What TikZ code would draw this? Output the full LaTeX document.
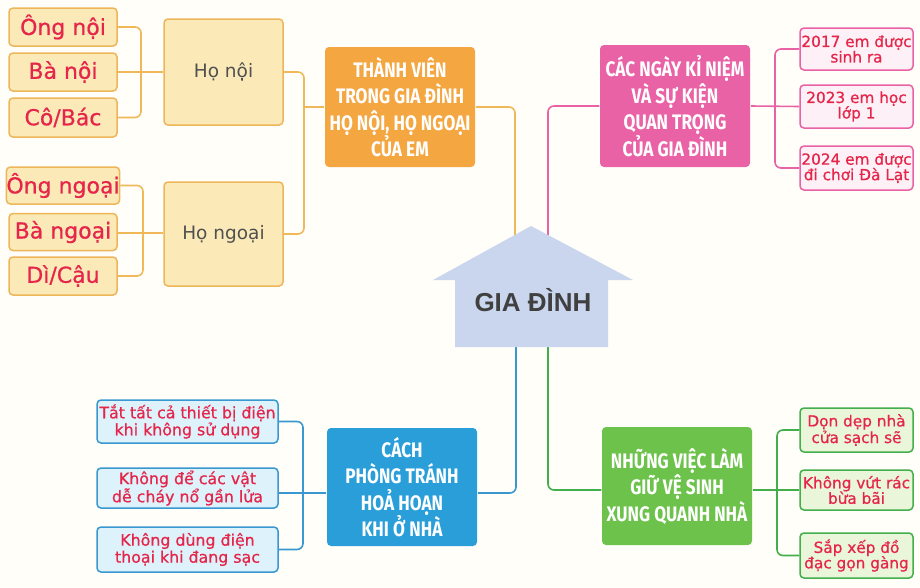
\documentclass[tikz,border=0pt]{standalone}
\usepackage{fontspec}
\usetikzlibrary{calc}
\setmainfont{DejaVu Sans}
\newfontfamily\leaffont[FakeBold=0.7]{DejaVu Sans}
\newfontfamily\headfont[FakeStretch=0.82]{Fira Sans}
\newfontfamily\housefont{Liberation Sans}
\definecolor{bgcol}{HTML}{FFFEF9}
\definecolor{orgbox}{HTML}{F4A640}
\definecolor{orgline}{HTML}{F1B85A}
\definecolor{orgleaf}{HTML}{FBEAB8}
\definecolor{orgborder}{HTML}{EDB65A}
\definecolor{pinkbox}{HTML}{EA62A6}
\definecolor{pinkleaf}{HTML}{FDF0F6}
\definecolor{bluebox}{HTML}{2A9ED9}
\definecolor{blueleaf}{HTML}{DDF2FB}
\definecolor{blueline}{HTML}{3A98D0}
\definecolor{greenbox}{HTML}{6CC24A}
\definecolor{greenleaf}{HTML}{EAF6DA}
\definecolor{greenline}{HTML}{43AE4C}
\definecolor{redtxt}{HTML}{E5254A}
\definecolor{graytxt}{HTML}{505050}
\definecolor{housecol}{HTML}{C9D6EE}
\tikzset{
  basebox/.style={inner sep=0pt, rounded corners=4pt, align=center, line width=1.5pt},
  headbox/.style={basebox, text=white, font=\headfont\bfseries\fontsize{21}{26.5}\selectfont},
  leafbig/.style={basebox, draw=orgborder, fill=orgleaf, text=redtxt, font=\leaffont\fontsize{22}{24}\selectfont},
  familybox/.style={basebox, draw=orgborder, fill=orgleaf, text=graytxt, font=\fontsize{18.5}{20}\selectfont},
  leafsmall/.style={basebox, text=redtxt, font=\leaffont\fontsize{15.3}{15.5}\selectfont},
  pinkleafbox/.style={leafsmall, draw=pinkbox, fill=pinkleaf},
  blueleafbox/.style={leafsmall, draw=blueline, fill=blueleaf, font=\leaffont\fontsize{15.8}{17}\selectfont},
  greenleafbox/.style={leafsmall, draw=greenline, fill=greenleaf},
  conn/.style={line width=1.6pt, rounded corners=6pt},
}
\begin{document}
\begin{tikzpicture}[x=1pt,y=-1pt]
\fill[bgcol] (0,0) rectangle (920,587);
\useasboundingbox (0,0) rectangle (920,587);

% ---------- orange group ----------
\node[leafbig, minimum width=108pt, minimum height=38pt] (on1) at (63,27) {Ông nội};
\node[leafbig, minimum width=108pt, minimum height=38pt] (bn1) at (63,72) {Bà nội};
\node[leafbig, minimum width=108pt, minimum height=39pt] (cb) at (63,117.5) {Cô/Bác};
\node[familybox, minimum width=119pt, minimum height=106pt] (hn) at (223.5,72) {Họ nội};
\node[leafbig, minimum width=108pt, minimum height=37pt] (on2) at (63,185.5) {Ông ngoại};
\node[leafbig, minimum width=108pt, minimum height=37pt] (bn2) at (63,232) {Bà ngoại};
\node[leafbig, minimum width=108pt, minimum height=38pt] (dc) at (63,276) {Dì/Cậu};
\node[familybox, minimum width=119pt, minimum height=104pt] (hng) at (223.5,234) {Họ ngoại};
\node[headbox, fill=orgbox, minimum width=150pt, minimum height=120pt] (tv) at (400,107)
  {THÀNH VIÊN\\TRONG GIA ĐÌNH\\HỌ NỘI, HỌ NGOẠI\\CỦA EM};

% ---------- pink group ----------
\node[headbox, fill=pinkbox, minimum width=150pt, minimum height=122pt] (nk) at (675,106)
  {CÁC NGÀY KỈ NIỆM\\VÀ SỰ KIỆN\\QUAN TRỌNG\\CỦA GIA ĐÌNH};
\node[pinkleafbox, minimum width=113pt, minimum height=42pt] (p1) at (856.5,49) {2017 em được\\sinh ra};
\node[pinkleafbox, minimum width=113pt, minimum height=43pt] (p2) at (856.5,106.5) {2023 em học\\lớp 1};
\node[pinkleafbox, minimum width=113pt, minimum height=44pt] (p3) at (856.5,168) {2024 em được\\đi chơi Đà Lạt};

% ---------- blue group ----------
\node[headbox, fill=bluebox, minimum width=150pt, minimum height=118pt] (cp) at (402,487)
  {CÁCH\\PHÒNG TRÁNH\\HOẢ HOẠN\\KHI Ở NHÀ};
\node[blueleafbox, minimum width=181pt, minimum height=43pt] (b1) at (187.5,421.5) {Tắt tất cả thiết bị điện\\khi không sử dụng};
\node[blueleafbox, minimum width=181pt, minimum height=40pt] (b2) at (187.5,488) {Không để các vật\\dễ cháy nổ gần lửa};
\node[blueleafbox, minimum width=181pt, minimum height=45pt] (b3) at (187.5,549.5) {Không dùng điện\\thoại khi đang sạc};

% ---------- green group ----------
\node[headbox, fill=greenbox, minimum width=150pt, minimum height=118pt] (nv) at (677,486)
  {NHỮNG VIỆC LÀM\\GIỮ VỆ SINH\\XUNG QUANH NHÀ};
\node[greenleafbox, minimum width=113pt, minimum height=44pt] (g1) at (856.5,430) {Dọn dẹp nhà\\cửa sạch sẽ};
\node[greenleafbox, minimum width=113pt, minimum height=40pt] (g2) at (856.5,490) {Không vứt rác\\bừa bãi};
\node[greenleafbox, minimum width=113pt, minimum height=45pt] (g3) at (856.5,555.5) {Sắp xếp đồ\\đạc gọn gàng};

% ---------- junction coordinates ----------
\coordinate (hTopL) at (515,245);
\coordinate (hTopR) at (548,245);
\coordinate (hBotL) at (516,340);
\coordinate (hBotR) at (548,340);
\coordinate (jo) at (304,107);
\coordinate (jb) at (303,493);
\coordinate (jg) at (777,490);
\coordinate (jp) at (775,106);
\coordinate (jl1) at (141,72);
\coordinate (jl2) at (143,233);

% ---------- connectors ----------
\draw[conn, orgline] (on1.east) -| (jl1) |- (cb.east);
\draw[conn, orgline] (bn1.east) -- (hn.west);
\draw[conn, orgline] (on2.east) -| (jl2) |- (dc.east);
\draw[conn, orgline] (bn2.east |- jl2) -- (jl2 -| hng.west);
\draw[conn, orgline] (hn.east) -| (jo) |- (hng.east);
\draw[conn, orgline] (jo) -- (tv.west);
\draw[conn, orgline] (tv.east) -| (hTopL);

\draw[conn, pinkbox] (hTopR) |- (nk.west);
\draw[conn, pinkbox] (nk.east) -- (p2.west);
\draw[conn, pinkbox] (p1.west) -| (jp) |- (p3.west);

\draw[conn, blueline] (hBotL) |- ([yshift=-6pt]cp.east);
\draw[conn, blueline] ([yshift=-6pt]cp.west) -- ([yshift=-6pt]cp.west -| b2.east);
\draw[conn, blueline] (b1.east) -| (jb) |- (b3.east);

\draw[conn, greenline] (hBotR) |- ([yshift=-4pt]nv.west);
\draw[conn, greenline] ([yshift=-4pt]nv.east) -- (g2.west);
\draw[conn, greenline] (g1.west) -| (jg) |- (g3.west);

% ---------- house ----------
\fill[housecol] (433,280) -- (531,226) -- (633,280) -- (608,280) -- (608,347) -- (455,347) -- (455,280) -- cycle;
\node[text=graytxt!80!black, font=\housefont\bfseries\fontsize{26}{28}\selectfont] (gd) at (533,300) {GIA ĐÌNH};
\end{tikzpicture}
\end{document}
